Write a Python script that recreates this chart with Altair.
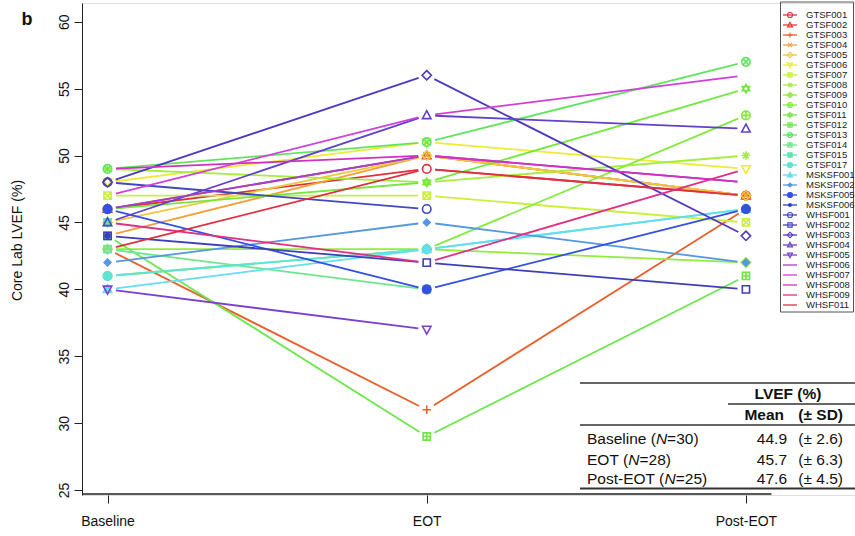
import math
import altair as alt
import pandas as pd

# ---------------- data ----------------
series = ["GTSF001", "GTSF002", "GTSF003", "GTSF004", "GTSF005", "GTSF006", "GTSF007",
          "GTSF008", "GTSF009", "GTSF010", "GTSF011", "GTSF012", "GTSF013", "GTSF014",
          "GTSF015", "GTSF017", "MSKSF001", "MSKSF002", "MSKSF005", "MSKSF006",
          "WHSF001", "WHSF002", "WHSF003", "WHSF004", "WHSF005", "WHSF006", "WHSF007",
          "WHSF008", "WHSF009", "WHSF011"]
timepoints = ["Baseline", "EOT", "Post-EOT"]
baseline = [46, 46, 43, 44, 45, 48, 47, 49, 43, 41, 46, 44, 49, 43, 45, 41, 40, 42, 46, 44,
            48, 44, 48, 45, 40, 46, 47, 49, 45, 43]
eot = [49, 50, 31, 50, 50, 51, 47, 48, 43, 43, 48, 29, 51, 40, None, 43, 43, 45, 40, None,
       46, 42, 56, 53, 37, 50, 53, 50, 42, 49]
post_eot = [47, 47, 46, 47, 47, 49, 45, 50, 42, 53, 55, 41, 57, None, None, 46, 46, 42, 46, None,
            None, 40, 44, 52, None, 48, 56, 48, 49, 47]

table_labels = ["Baseline", "EOT", "Post-EOT"]
table_n = [30, 28, 25]
table_mean = [44.9, 45.7, 47.6]
table_sd = [2.6, 6.3, 4.5]

# ---------------- styles ----------------
colors = ["#e0303c", "#e63a30", "#e8602c", "#f2a03c", "#f0c840", "#ecec34", "#c8f03c",
          "#a6ee3c", "#92ec3c", "#82ea3e", "#74e840", "#6ee64c", "#62e462", "#6ee690",
          "#60e4b0", "#5ce4d4", "#62def0", "#5498e0", "#3450e0", "#3040c4",
          "#4048c0", "#3e3eb8", "#5038c0", "#6040cc", "#7c40d0", "#a040d0", "#d040d8",
          "#d030c4", "#e03084", "#e03040"]

C = "M-1,0A1,1,0,1,1,1,0A1,1,0,1,1,-1,0Z"
SQ = "M-0.85,-0.85L0.85,-0.85L0.85,0.85L-0.85,0.85Z"
DI = "M0,-1.1L1.1,0L0,1.1L-1.1,0Z"
TU = "M0,-1.1L1,0.75L-1,0.75Z"
TD = "M0,1.1L1,-0.75L-1,-0.75Z"
PL = "M-1,0L1,0M0,-1L0,1"
XX = "M-0.8,-0.8L0.8,0.8M-0.8,0.8L0.8,-0.8"
shapes = [C, TU, PL, XX, DI, TD,
          SQ + "M-0.85,-0.85L0.85,0.85M-0.85,0.85L0.85,-0.85",
          PL + "M-0.7,-0.7L0.7,0.7M-0.7,0.7L0.7,-0.7",
          DI + "M-1.1,0L1.1,0M0,-1.1L0,1.1",
          C + PL,
          "M0,-1L0.87,0.5L-0.87,0.5ZM0,1L0.87,-0.5L-0.87,-0.5Z",
          SQ + "M-0.85,0L0.85,0M0,-0.85L0,0.85",
          C + "M-0.7,-0.7L0.7,0.7M-0.7,0.7L0.7,-0.7",
          SQ + "M-0.85,0.85L0,-0.85L0.85,0.85",
          SQ, C, TU, "M0,-0.8L0.8,0L0,0.8L-0.8,0Z", C,
          "M-0.55,0A0.55,0.55,0,1,1,0.55,0A0.55,0.55,0,1,1,-0.55,0Z",
          C, SQ, DI, TU, TD, "", "", "", "", ""]
filled = [False] * 14 + [True] * 6 + [False] * 10

# ---------------- geometry ----------------
PXX = 319.2                     # pixels per time step
W, H = 773, 492                 # view spans to the right edge (legend/table live in it)
XMIN = 0.92
XMAX = XMIN + W / PXX
X_END = 3.08                    # end of the drawn x axis line
YMIN, YMAX = 24.63, 61.4
PXY = H / (YMAX - YMIN)
GAP = 8.5
FONT = "Liberation Sans"
LEG_TOP, LEG_STEP = 12, 10   # legend rows, pixels from the plot top

# ---------------- tables ----------------
vals = [baseline, eot, post_eot]
pts, segs = [], []
for i, s in enumerate(series):
    for t in range(3):
        v = vals[t][i]
        if v is not None and shapes[i]:
            pts.append({"id": s, "t": t + 1, "v": v})
    for t in range(2):
        a, b = vals[t][i], vals[t + 1][i]
        if a is None or b is None:
            continue
        L = math.hypot(PXX, PXY * (b - a))
        f = GAP / L
        segs.append({"id": s, "x1": t + 1 + f, "x2": t + 2 - f,
                     "y1": a + f * (b - a), "y2": b - f * (b - a)})
pts = pd.DataFrame(pts)
segs = pd.DataFrame(segs)
marker_series = [s for s, sh in zip(series, shapes) if sh]
marker_shapes = [sh for sh in shapes if sh]
marker_fills = [c if fl else "transparent" for c, sh, fl in zip(colors, shapes, filled) if sh]
legend_df = pd.DataFrame({"id": series,
                          "ly": [YMAX - (LEG_TOP + LEG_STEP * i) / PXY for i in range(len(series))]})
legend_pts = legend_df[legend_df["id"].isin(marker_series)]
axis_line_df = pd.DataFrame({"ax": [XMIN, X_END], "ay": [YMIN + 1.0 / PXY] * 2})

xs = alt.Scale(domain=[XMIN, XMAX], nice=False, zero=False)
ys = alt.Scale(domain=[YMIN, YMAX], nice=False, zero=False)
stroke_scale = alt.Scale(domain=series, range=colors)
shape_scale = alt.Scale(domain=marker_series, range=marker_shapes)
fill_scale = alt.Scale(domain=marker_series, range=marker_fills)

label_expr = " : ".join(f"datum.value == {i + 1} ? '{t}'" for i, t in enumerate(timepoints[:-1])) \
    + f" : '{timepoints[-1]}'"

x_axis = alt.Axis(values=[1, 2, 3], labelExpr=label_expr, title=None, grid=False, domain=False,
                  tickSize=8, labelFontSize=14, labelPadding=11, labelFont=FONT,
                  tickColor="#222", labelColor="#111")
y_axis = alt.Axis(values=list(range(25, 61, 5)), title="Core Lab LVEF (%)", grid=False,
                  tickSize=8, labelAngle=270, labelAlign="center", labelBaseline="bottom",
                  labelPadding=3, labelFontSize=14, labelFont=FONT, labelColor="#111",
                  domainColor="#222", tickColor="#222",
                  titleFont=FONT, titleFontSize=14, titleFontWeight="normal", titleColor="#111",
                  titleX=-65, titleY=237, titleAngle=270, titleAlign="center",
                  titleBaseline="middle")

X = lambda f: alt.X(f, scale=xs, axis=x_axis)
Y = lambda f: alt.Y(f, scale=ys, axis=y_axis)

lines = alt.Chart(segs).mark_rule(strokeWidth=1.8).encode(
    x=X("x1:Q"), x2="x2:Q", y=Y("y1:Q"), y2="y2:Q",
    stroke=alt.Stroke("id:N", scale=stroke_scale, legend=None))

points = alt.Chart(pts).mark_point(filled=False, size=72, strokeWidth=1.6, opacity=1,
                                   fillOpacity=1).encode(
    x=X("t:Q"), y=Y("v:Q"),
    stroke=alt.Stroke("id:N", scale=stroke_scale, legend=None),
    fill=alt.Fill("id:N", scale=fill_scale, legend=None),
    shape=alt.Shape("id:N", scale=shape_scale, legend=None))

# bottom axis line of the plot frame (from the y axis to the plot's right edge)
x_line = alt.Chart(axis_line_df).mark_line(color="#222", strokeWidth=1.5).encode(
    x=X("ax:Q"), y=Y("ay:Q"))

one = pd.DataFrame({"k": [0]})

# ---------------- legend ----------------
leg_box = alt.Chart(one).mark_rect(fill="transparent", stroke="#555", strokeWidth=1).encode(
    x=alt.value(698.5), x2=alt.value(771.5), y=alt.value(-1), y2=alt.value(309))
leg_lines = alt.Chart(legend_df).mark_rule(strokeWidth=1.3).encode(
    x=alt.value(701), x2=alt.value(715), y=Y("ly:Q"),
    stroke=alt.Stroke("id:N", scale=stroke_scale, legend=None))
leg_pts = alt.Chart(legend_pts).mark_point(filled=False, size=26, strokeWidth=1.1, opacity=1,
                                           fillOpacity=1).encode(
    x=alt.value(708), y=Y("ly:Q"),
    stroke=alt.Stroke("id:N", scale=stroke_scale, legend=None),
    fill=alt.Fill("id:N", scale=fill_scale, legend=None),
    shape=alt.Shape("id:N", scale=shape_scale, legend=None))
leg_text = alt.Chart(legend_df).mark_text(align="left", baseline="middle", fontSize=9.5,
                                          font=FONT, color="#222").encode(
    x=alt.value(724), y=Y("ly:Q"), text="id:N")

# ---------------- table ----------------
def rule(x1, x2, y, w=1.3):
    return alt.Chart(one).mark_rule(color="#333", strokeWidth=w).encode(
        x=alt.value(x1), x2=alt.value(x2), y=alt.value(y))

def txt(s, x, y, align="left", weight="normal", style="normal", size=15.5):
    return alt.Chart(pd.DataFrame({"s": [s]})).mark_text(
        align=align, baseline="middle", fontSize=size, font=FONT, fontWeight=weight,
        fontStyle=style, color="#111").encode(x=alt.value(x), y=alt.value(y), text="s:N")

AW = {"B": 667, "a": 556, "s": 500, "e": 556, "l": 222, "i": 222, "n": 556, " ": 278,
      "(": 333, ")": 333, "E": 667, "O": 778, "T": 611, "P": 667, "o": 556, "t": 278,
      "-": 333, "N": 722, "=": 584}

def width(s, size=15.5):
    return sum(AW.get(ch, 556) for ch in s) * size / 1000.0

table_layers = [rule(498, 773, 380), rule(646, 773, 401), rule(498, 773, 422),
                rule(498, 773, 485.5, 2.2),
                txt("LVEF (%)", 706, 391, "center", "bold"),
                txt("Mean", 702, 412, "right", "bold"),
                txt("(± SD)", 761, 412, "right", "bold")]
row_y = [436, 457, 476]
for lab, n, m, sd, y in zip(table_labels, table_n, table_mean, table_sd, row_y):
    x0 = 505
    pre = f"{lab} ("
    table_layers.append(txt(pre, x0, y))
    x1 = x0 + width(pre)
    table_layers.append(txt("N", x1, y, style="italic"))
    table_layers.append(txt(f"={n})", x1 + width("N"), y))
    table_layers.append(txt(f"{m:.1f}", 705, y, "right"))
    table_layers.append(txt(f"(± {sd:.1f})", 761, y, "right"))

panel_label = txt("b", -55, 17, "center", "bold", size=18)

chart = alt.layer(lines, points, x_line, leg_box, leg_lines, leg_pts, leg_text, panel_label,
                  *table_layers).properties(
    width=W, height=H,
    autosize=alt.AutoSizeParams(type="none"),
    padding={"left": 82, "top": 3, "right": 0, "bottom": 41},
).configure_view(stroke="transparent", strokeWidth=0).configure(font=FONT, background="white")

chart.save("out.html", embed_options={"renderer": "svg", "actions": False})
